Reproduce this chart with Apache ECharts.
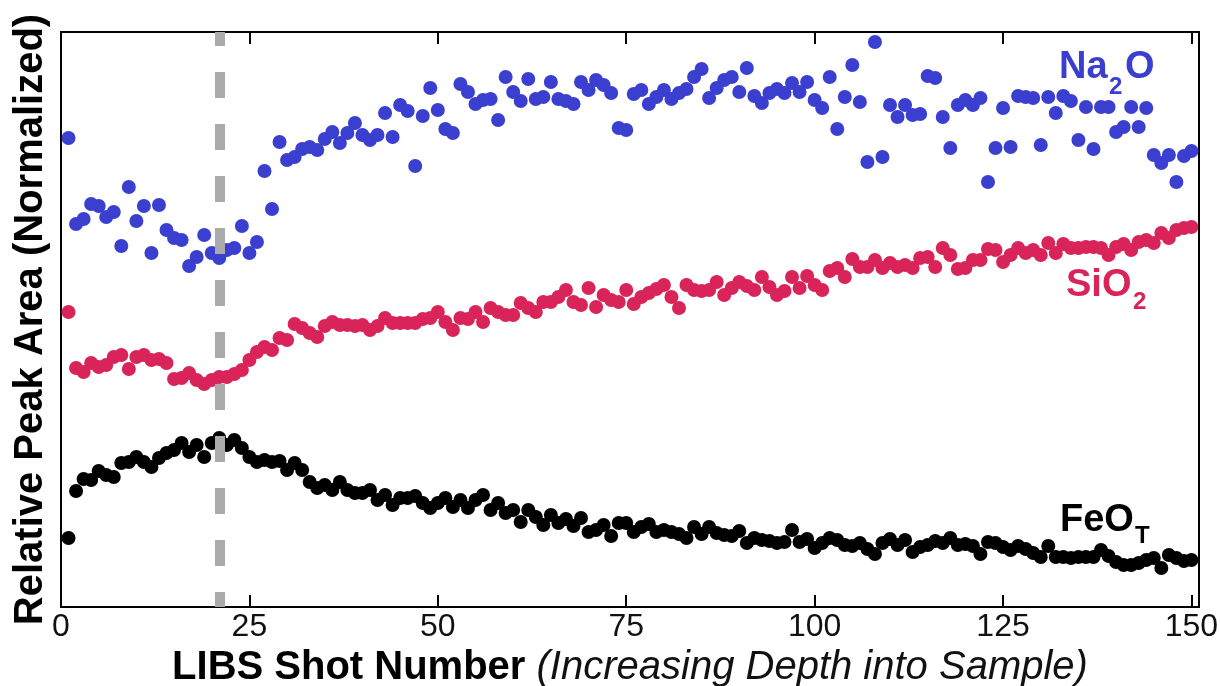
<!DOCTYPE html>
<html>
<head>
<meta charset="utf-8">
<title>LIBS depth profile</title>
<script src="https://cdn.jsdelivr.net/npm/echarts@6/dist/echarts.min.js"></script>
<style>
  html, body { margin: 0; padding: 0; background: #ffffff; }
  #chart { width: 1220px; height: 686px; }
</style>
</head>
<body>
<div id="chart"></div>
<script>
// Relative peak areas (normalized) for shots 1..150
const na2o = [
  93.8, 76.6, 77.6, 80.6, 80.2, 78.0, 79.0, 72.2, 84.0, 77.2,
  80.2, 70.8, 80.4, 75.4, 73.8, 73.4, 68.2, 70.0, 74.4, 70.8,
  69.8, 71.4, 71.8, 76.2, 70.8, 73.0, 87.2, 79.6, 93.0, 89.4,
  90.0, 91.6, 92.0, 91.4, 93.6, 95.0, 92.8, 94.8, 96.8, 94.4,
  93.4, 94.4, 98.8, 94.0, 100.4, 99.2, 88.2, 98.2, 103.8, 99.4,
  95.6, 94.8, 104.6, 103.0, 100.6, 101.4, 101.6, 97.4, 106.0, 103.0,
  101.2, 105.6, 101.6, 102.0, 105.0, 101.6, 101.2, 100.6, 105.0, 103.4,
  105.4, 104.4, 102.8, 95.8, 95.4, 102.6, 103.4, 100.6, 102.0, 103.4,
  101.6, 102.8, 103.6, 106.0, 107.6, 101.8, 103.8, 105.4, 106.0, 103.0,
  107.8, 102.2, 100.8, 102.8, 103.6, 102.8, 104.8, 103.0, 105.0, 101.4,
  99.8, 106.0, 95.6, 102.0, 108.4, 101.0, 89.0, 113.0, 90.0, 100.4,
  98.0, 100.4, 98.4, 98.6, 106.2, 105.8, 98.0, 91.8, 100.4, 101.4,
  100.4, 101.8, 85.0, 91.8, 99.8, 92.0, 102.2, 102.0, 101.8, 92.4,
  102.0, 98.8, 102.2, 101.2, 93.4, 100.0, 91.6, 100.0, 100.0, 95.0,
  96.0, 100.0, 96.0, 99.8, 90.4, 88.8, 90.4, 85.0, 90.2, 91.2
];

const sio2 = [
  59.0, 47.8, 47.0, 48.8, 48.0, 48.4, 50.0, 50.4, 47.6, 50.0,
  50.4, 49.4, 49.6, 48.8, 45.6, 45.8, 46.8, 45.4, 44.6, 45.4,
  46.0, 46.0, 46.6, 47.4, 49.4, 51.0, 52.0, 51.4, 53.8, 53.4,
  56.6, 55.8, 54.8, 54.0, 56.2, 57.0, 56.4, 56.4, 56.2, 56.4,
  55.4, 56.2, 57.8, 56.8, 56.8, 56.8, 56.8, 57.6, 57.8, 59.0,
  57.0, 55.4, 57.8, 57.6, 59.0, 57.0, 59.8, 59.0, 58.4, 58.4,
  60.8, 59.8, 59.0, 61.0, 61.0, 62.0, 63.4, 61.0, 60.4, 63.8,
  60.0, 62.4, 61.4, 61.0, 63.4, 60.6, 62.0, 62.8, 63.6, 64.4,
  62.0, 59.8, 64.4, 63.4, 63.2, 63.4, 65.0, 62.4, 63.8, 65.0,
  64.2, 63.4, 66.0, 64.0, 62.4, 63.2, 66.0, 63.8, 66.2, 64.4,
  63.4, 67.2, 67.8, 66.0, 69.6, 68.0, 68.0, 69.4, 67.8, 68.8,
  68.0, 68.4, 67.8, 69.8, 70.0, 68.0, 71.8, 70.4, 67.6, 67.8,
  69.4, 69.4, 71.6, 71.4, 69.0, 70.4, 71.8, 70.8, 71.4, 70.4,
  72.8, 70.8, 72.6, 71.8, 71.8, 72.0, 72.0, 71.8, 70.4, 72.0,
  72.6, 71.4, 73.0, 73.4, 72.8, 74.8, 73.8, 75.4, 75.8, 76.0
];

const feot = [
  13.8, 23.2, 25.6, 25.4, 27.2, 26.4, 26.0, 28.8, 29.0, 30.0,
  29.0, 28.0, 29.8, 30.8, 31.4, 32.8, 31.0, 32.4, 30.0, 32.8,
  33.8, 32.4, 33.4, 31.8, 30.0, 29.0, 29.4, 29.0, 29.2, 27.4,
  28.8, 27.4, 25.0, 23.8, 24.4, 23.4, 25.0, 23.4, 22.8, 22.8,
  23.4, 21.4, 22.4, 20.4, 21.8, 21.8, 22.2, 20.8, 19.8, 20.8,
  21.8, 20.0, 21.4, 19.8, 21.4, 22.4, 19.4, 20.8, 18.8, 19.4,
  17.0, 19.4, 18.0, 16.4, 18.4, 16.8, 17.6, 16.2, 17.8, 15.0,
  15.4, 16.4, 14.2, 16.8, 16.8, 15.0, 16.0, 16.6, 15.0, 15.4,
  15.0, 14.6, 13.8, 16.0, 14.6, 16.0, 14.8, 14.4, 14.2, 15.2,
  12.8, 13.8, 13.4, 13.2, 12.8, 13.0, 15.4, 13.0, 13.6, 11.8,
  12.8, 13.8, 13.4, 12.4, 12.2, 12.8, 11.6, 10.6, 12.8, 13.6,
  12.4, 13.4, 11.0, 12.0, 12.4, 13.2, 12.8, 13.8, 12.4, 12.6,
  12.2, 10.6, 13.0, 12.8, 12.0, 11.4, 12.2, 11.6, 10.8, 10.0,
  12.2, 10.0, 10.0, 9.8, 10.0, 10.0, 10.0, 11.4, 10.2, 9.0,
  8.4, 8.4, 8.8, 9.4, 9.8, 7.8, 10.4, 9.8, 9.2, 9.4
];

const xTickLabels = [0, 25, 50, 75, 100, 125, 150];
const transitionShot = 21;   // dashed marker position
const firstShot = 1;

const BLUE = '#3a3fd0';
const RED = '#d9245a';
const BLACK = '#000000';
const FONT = '"Liberation Sans", Arial, Helvetica, sans-serif';
const DOT = 14;

function toPoints(values) {
  return values.map((v, i) => [firstShot + i, v]);
}

const chart = echarts.init(document.getElementById('chart'), null, { renderer: 'canvas' });

const tickStyle = { show: true, inside: true, length: 12, lineStyle: { color: BLACK, width: 2 } };
const baseX = {
  type: 'value', min: 0, max: 151, interval: 25,
  axisLine: { show: false },
  axisTick: tickStyle,
  splitLine: { show: false }
};

const option = {
  animation: false,
  backgroundColor: '#ffffff',
  grid: {
    left: 61, right: 21, top: 32, bottom: 79,
    show: true, borderColor: BLACK, borderWidth: 2, backgroundColor: 'transparent',
    containLabel: false, outerBoundsMode: 'none'
  },
  xAxis: [
    Object.assign({}, baseX, {
      position: 'bottom',
      axisLabel: {
        show: true, margin: 4, color: '#111', fontFamily: FONT, fontSize: 32,
        formatter: (v) => (xTickLabels.indexOf(v) >= 0 ? String(v) : '')
      },
      name: '{b|LIBS Shot Number} {i|(Increasing Depth into Sample)}',
      nameLocation: 'middle',
      nameGap: 36,
      nameTextStyle: {
        fontFamily: FONT, fontSize: 40, color: BLACK,
        rich: {
          b: { fontFamily: FONT, fontSize: 40, fontWeight: 'bold', color: BLACK },
          i: { fontFamily: FONT, fontSize: 40, fontStyle: 'italic', color: '#111' }
        }
      }
    }),
    Object.assign({}, baseX, {
      position: 'top',
      axisLabel: { show: false }
    })
  ],
  yAxis: {
    type: 'value', min: 0, max: 115,
    axisLine: { show: false },
    axisTick: { show: false },
    axisLabel: { show: false },
    splitLine: { show: false },
    name: 'Relative Peak Area (Normalized)',
    nameLocation: 'middle',
    nameGap: 10,
    nameTextStyle: { fontFamily: FONT, fontSize: 40, fontWeight: 'bold', color: BLACK }
  },
  series: [
    {
      name: 'transition',
      type: 'line',
      data: [],
      z: 1,
      silent: true,
      markLine: {
        silent: true,
        symbol: ['none', 'none'],
        label: { show: false },
        emphasis: { disabled: true },
        lineStyle: { color: '#aaaaaa', width: 10, type: [26, 26], dashOffset: 11, cap: 'butt' },
        data: [{ xAxis: transitionShot }]
      }
    },
    {
      name: 'Na2O', type: 'scatter', z: 3, symbol: 'circle', symbolSize: DOT,
      itemStyle: { color: BLUE, opacity: 1 }, data: toPoints(na2o)
    },
    {
      name: 'SiO2', type: 'scatter', z: 3, symbol: 'circle', symbolSize: DOT,
      itemStyle: { color: RED, opacity: 1 }, data: toPoints(sio2)
    },
    {
      name: 'FeOT', type: 'scatter', z: 3, symbol: 'circle', symbolSize: DOT,
      itemStyle: { color: BLACK, opacity: 1 }, data: toPoints(feot)
    }
  ],
  graphic: [
    // Na2O
    { type: 'text', x: 1059, y: 49, z: 10, style: { text: 'Na', fill: BLUE, font: 'bold 38px ' + FONT, verticalAlign: 'top' } },
    { type: 'text', x: 1109, y: 75, z: 10, style: { text: '2', fill: BLUE, font: 'bold 24px ' + FONT, verticalAlign: 'top' } },
    { type: 'text', x: 1125, y: 49, z: 10, style: { text: 'O', fill: BLUE, font: 'bold 38px ' + FONT, verticalAlign: 'top' } },
    // SiO2
    { type: 'text', x: 1066, y: 267, z: 10, style: { text: 'SiO', fill: RED, font: 'bold 38px ' + FONT, verticalAlign: 'top' } },
    { type: 'text', x: 1133, y: 290, z: 10, style: { text: '2', fill: RED, font: 'bold 24px ' + FONT, verticalAlign: 'top' } },
    // FeOT
    { type: 'text', x: 1060, y: 502, z: 10, style: { text: 'FeO', fill: BLACK, font: 'bold 38px ' + FONT, verticalAlign: 'top' } },
    { type: 'text', x: 1135, y: 524, z: 10, style: { text: 'T', fill: BLACK, font: 'bold 24px ' + FONT, verticalAlign: 'top' } }
  ]
};

chart.setOption(option);
</script>
</body>
</html>
